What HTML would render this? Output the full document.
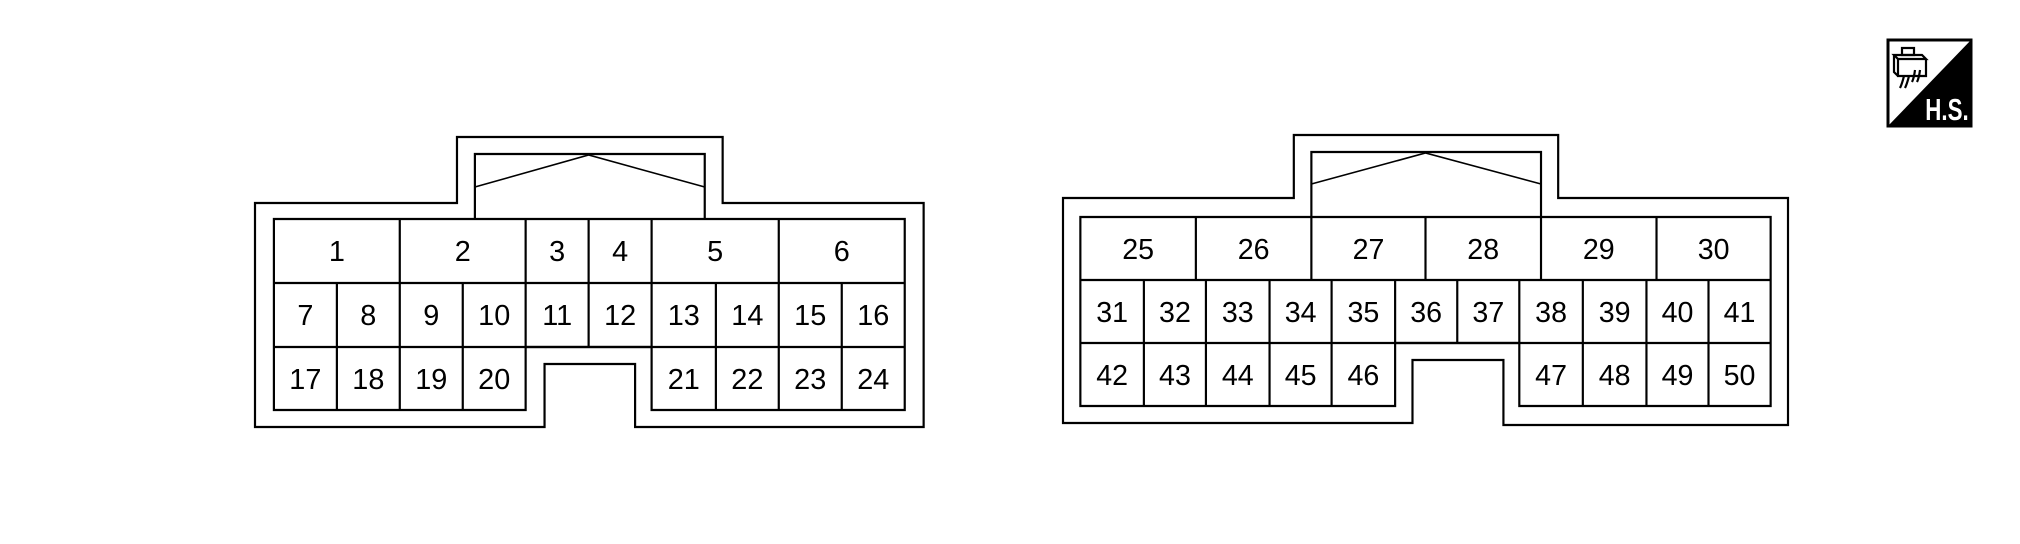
<!DOCTYPE html>
<html><head><meta charset="utf-8"><style>
html,body{margin:0;padding:0;background:#fff;}
svg{display:block;}
text{font-family:"Liberation Sans",sans-serif;font-size:29px;fill:#000;text-anchor:middle;}
</style></head><body>
<svg width="2020" height="544" viewBox="0 0 2020 544" xmlns="http://www.w3.org/2000/svg">
<g transform="translate(255,0) scale(0.995,1) translate(-256,0)">
<g fill="none" stroke="#000" stroke-width="2.2">
<path d="M256,203 H459 V137 H726 V203 H928 V427 H638 V364 H547 V427 H256 Z"/>
<path d="M275,219 H909 V410 H654.6 V347 H528 V410 H275 Z"/>
<path d="M275,283 H909 M275,347 H909"/>
<path d="M401.5,219V283 M528,219V283 M591.3,219V283 M654.6,219V283 M782.4,219V283"/>
<path d="M338.3,283V347 M401.5,283V347 M464.8,283V347 M528,283V347 M591.3,283V347 M654.6,283V347 M719.2,283V347 M782.4,283V347 M845.7,283V347"/>
<path d="M338.3,347V410 M401.5,347V410 M464.8,347V410 M719.2,347V410 M782.4,347V410 M845.7,347V410"/>
<path d="M477,219 V154 H708 V219"/>
<path d="M477,187 L591.3,155 L708,187" stroke-width="1.6"/>
</g>
<g>
<text x="338.3" y="261">1</text><text x="464.8" y="261">2</text><text x="559.7" y="261">3</text><text x="623" y="261">4</text><text x="718.5" y="261">5</text><text x="845.7" y="261">6</text>
<text x="306.6" y="325">7</text><text x="369.9" y="325">8</text><text x="433.2" y="325">9</text><text x="496.4" y="325">10</text><text x="559.7" y="325">11</text><text x="623" y="325">12</text><text x="686.9" y="325">13</text><text x="750.8" y="325">14</text><text x="814" y="325">15</text><text x="877.4" y="325">16</text>
<text x="306.6" y="389">17</text><text x="369.9" y="389">18</text><text x="433.2" y="389">19</text><text x="496.4" y="389">20</text><text x="686.9" y="389">21</text><text x="750.8" y="389">22</text><text x="814" y="389">23</text><text x="877.4" y="389">24</text>
</g>
</g>
<g transform="translate(1063,0) scale(0.9864,1) translate(-1068,0)">
<g fill="none" stroke="#000" stroke-width="2.2">
<path d="M1068,198 H1302 V135 H1570 V198 H1803 V425 H1514.5 V360 H1422.3 V423 H1068 Z"/>
<path d="M1085.6,217 H1785.4 V406 H1530.6 V343 H1404.7 V406 H1085.6 Z"/>
<path d="M1085.6,280 H1785.4 M1085.6,343 H1785.4"/>
<path d="M1202.7,217V280 M1319.8,217V280 M1435.5,217V280 M1552.6,217V280 M1669.7,217V280"/>
<path d="M1150,280V343 M1212.9,280V343 M1277.4,280V343 M1340.3,280V343 M1404.7,280V343 M1467.7,280V343 M1530.6,280V343 M1595,280V343 M1659.5,280V343 M1722.4,280V343"/>
<path d="M1150,343V406 M1212.9,343V406 M1277.4,343V406 M1340.3,343V406 M1595,343V406 M1659.5,343V406 M1722.4,343V406"/>
<path d="M1319.8,217 V152 H1552.6 V217"/>
<path d="M1319.8,184 L1435.5,153 L1552.6,184" stroke-width="1.6"/>
</g>
<g>
<text x="1144.2" y="259">25</text><text x="1261.3" y="259">26</text><text x="1377.7" y="259">27</text><text x="1494" y="259">28</text><text x="1611.2" y="259">29</text><text x="1727.6" y="259">30</text>
<text x="1117.8" y="322">31</text><text x="1181.5" y="322">32</text><text x="1245.2" y="322">33</text><text x="1308.9" y="322">34</text><text x="1372.5" y="322">35</text><text x="1436.2" y="322">36</text><text x="1499.2" y="322">37</text><text x="1562.8" y="322">38</text><text x="1627.3" y="322">39</text><text x="1691" y="322">40</text><text x="1753.9" y="322">41</text>
<text x="1117.8" y="385">42</text><text x="1181.5" y="385">43</text><text x="1245.2" y="385">44</text><text x="1308.9" y="385">45</text><text x="1372.5" y="385">46</text><text x="1562.8" y="385">47</text><text x="1627.3" y="385">48</text><text x="1691" y="385">49</text><text x="1753.9" y="385">50</text>
</g>
</g>
<rect x="1888" y="40" width="83" height="86" fill="#fff" stroke="#000" stroke-width="3"/>
<polygon points="1971,40 1971,126 1888,126" fill="#000"/>
<g fill="none" stroke="#000" stroke-width="2.2">
<rect x="1902" y="48" width="12" height="7"/>
<path d="M1894,55 H1922 L1926,59 H1898 Z"/>
<path d="M1898,59 V76 H1926 V59 M1894,55 V72 L1898,76"/>
<path d="M1904,76 q-2,8 -4,12 M1909,76 q-2,8 -4,12 M1915,70 q-1,8 -3,12 M1920,70 q-1,8 -3,12"/>
</g>
<text x="1947" y="120" style="font-size:31px;font-weight:bold;fill:#fff;" transform="translate(1947,0) scale(0.72,1) translate(-1947,0)">H.S.</text>
</svg>
</body></html>
